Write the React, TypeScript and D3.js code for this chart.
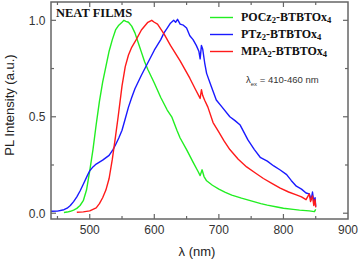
import React from "react";
import * as d3 from "d3";

// ---- data ----
const xTicks = [500, 600, 700, 800, 900];
const yTicks = [0.0, 0.5, 1.0];
const yTickLabels = ["0.0", "0.5", "1.0"];

const greenWl = [460, 465, 470, 475, 480, 485, 490, 495, 500, 505, 510, 515, 520, 525, 530, 535, 540, 545, 550, 553, 556, 560, 565, 570, 575, 580, 585, 590, 595, 600, 610, 620, 627, 635, 640, 650, 660, 668, 671, 674, 677, 681, 690, 700, 710, 720, 735, 750, 765, 775, 790, 800, 815, 825, 840, 848, 850];
const greenVal = [0.004, 0.006, 0.01, 0.016, 0.025, 0.04, 0.065, 0.12, 0.22, 0.33, 0.46, 0.58, 0.68, 0.76, 0.84, 0.9, 0.95, 0.975, 0.99, 1.0, 0.995, 0.99, 0.97, 0.935, 0.885, 0.835, 0.785, 0.745, 0.71, 0.675, 0.6, 0.535, 0.5, 0.43, 0.39, 0.33, 0.265, 0.215, 0.195, 0.225, 0.19, 0.168, 0.145, 0.125, 0.108, 0.094, 0.078, 0.064, 0.05, 0.042, 0.032, 0.026, 0.02, 0.016, 0.012, 0.008, 0.02];

const blueWl = [440, 450, 460, 465, 470, 475, 480, 485, 490, 497, 500, 505, 510, 520, 530, 536, 540, 545, 550, 555, 560, 565, 570, 580, 590, 600, 610, 615, 620, 625, 630, 633, 636, 640, 645, 650, 655, 660, 665, 669, 671, 673, 675, 678, 681, 688, 696, 705, 717, 725, 733, 745, 755, 764, 775, 785, 795, 805, 812, 820, 828, 835, 840, 843, 845, 847, 849, 850];
const blueVal = [0.01, 0.011, 0.018, 0.026, 0.04, 0.06, 0.085, 0.115, 0.15, 0.2, 0.22, 0.24, 0.255, 0.275, 0.3, 0.33, 0.355, 0.39, 0.43, 0.49, 0.55, 0.6, 0.645, 0.715, 0.78, 0.845, 0.9, 0.935, 0.96, 0.985, 1.0, 0.99, 1.005, 0.98, 0.975, 0.96, 0.92, 0.9, 0.87, 0.84, 0.8, 0.87, 0.85, 0.78, 0.725, 0.66, 0.587, 0.55, 0.5, 0.48, 0.457, 0.38, 0.33, 0.29, 0.27, 0.245, 0.224, 0.2, 0.17, 0.14, 0.125, 0.105, 0.1, 0.07, 0.11, 0.06, 0.08, 0.035];

const redWl = [480, 490, 500, 510, 515, 520, 525, 530, 535, 540, 544, 550, 555, 560, 565, 572, 580, 590, 596, 600, 605, 615, 625, 640, 655, 664, 671, 673, 675, 678, 683, 691, 700, 708, 717, 730, 743, 756, 769, 782, 795, 808, 820, 828, 835, 840, 842, 845, 847, 849, 850];
const redVal = [0.005, 0.007, 0.012, 0.028, 0.05, 0.08, 0.12, 0.18, 0.28, 0.4, 0.5, 0.66, 0.76, 0.82, 0.86, 0.9, 0.95, 0.99, 1.0, 0.99, 0.98, 0.93, 0.87, 0.79, 0.7, 0.64, 0.595, 0.64, 0.61, 0.586, 0.55, 0.47, 0.42, 0.375, 0.33, 0.28, 0.24, 0.21, 0.18, 0.155, 0.13, 0.11, 0.095, 0.085, 0.07, 0.1, 0.06, 0.09, 0.04, 0.07, 0.03];

const seriesNames = ["POCz", "PTz", "MPA"];
const seriesColors = ["#22ee22", "#1a1aff", "#ff1a1a"];

const W = 360, H = 262;
const left = 51, right = 348, top = 2, bottom = 219;

export default function App() {
  const x = d3.scaleLinear().domain([440, 900]).range([left, right]);
  const y = d3.scaleLinear().domain([-0.03, 1.095]).range([bottom, top]);
  const line = d3.line<[number, number]>().x(d => x(d[0])).y(d => y(d[1]));
  const mk = (a: number[], b: number[]) => a.map((v, i) => [v, b[i]] as [number, number]);
  const series = [mk(greenWl, greenVal), mk(blueWl, blueVal), mk(redWl, redVal)];

  const xMinor = d3.range(450, 900, 50);
  const yMinor = [0, 0.25, 0.5, 0.75, 1.0];
  const axisColor = "#666";
  const sans = "Arial, 'Liberation Sans', sans-serif";
  const serif = "'Times New Roman', 'Liberation Serif', serif";

  const legendY = [17.5, 34.5, 51.5];
  const legendText = (i: number) => {
    const head = seriesNames[i];
    return (<>{head}<tspan fontSize={8.5} dy={2}>2</tspan><tspan dy={-2}>-BTBTOx</tspan><tspan fontSize={8.5} dy={2}>4</tspan></>);
  };

  return (
    <svg width={W} height={H} style={{ position: "absolute", left: 0, top: 0, background: "#fff" }}>
      <defs>
        <clipPath id="clip"><rect x={left} y={top} width={right - left} height={bottom - top} /></clipPath>
      </defs>
      <g clipPath="url(#clip)">
        {series.map((s, i) => (
          <path key={i} d={line(s) || ""} fill="none" stroke={seriesColors[i]} strokeWidth={1.4} strokeLinejoin="round" />
        ))}
      </g>
      <rect x={left} y={top} width={right - left} height={bottom - top} fill="none" stroke={axisColor} strokeWidth={1.5} />
      {xMinor.map(v => {
        const major = v % 100 === 0;
        const len = major ? 5 : 3;
        return (
          <g key={"xt" + v}>
            <line x1={x(v)} x2={x(v)} y1={bottom} y2={bottom - len} stroke={axisColor} strokeWidth={1.2} />
            <line x1={x(v)} x2={x(v)} y1={top} y2={top + len} stroke={axisColor} strokeWidth={1.2} />
          </g>
        );
      })}
      {yMinor.map(v => {
        const major = Math.abs(v * 2 - Math.round(v * 2)) < 1e-6;
        const len = major ? 5 : 3;
        return (
          <g key={"yt" + v}>
            <line x1={left} x2={left + len} y1={y(v)} y2={y(v)} stroke={axisColor} strokeWidth={1.2} />
            <line x1={right} x2={right - len} y1={y(v)} y2={y(v)} stroke={axisColor} strokeWidth={1.2} />
          </g>
        );
      })}
      {xTicks.map(v => (
        <text key={"xl" + v} x={x(v)} y={233.5} textAnchor="middle" fontFamily={sans} fontSize={12} fill="#333">{v}</text>
      ))}
      {yTicks.map((v, i) => (
        <text key={"yl" + v} x={45.5} y={y(v) + 4.3} textAnchor="end" fontFamily={sans} fontSize={12} fill="#333">{yTickLabels[i]}</text>
      ))}
      <text x={197} y={256} textAnchor="middle" fontFamily={sans} fontSize={13} fill="#222">λ (nm)</text>
      <text transform="translate(13.5,105) rotate(-90)" textAnchor="middle" fontFamily={sans} fontSize={13} fill="#222">PL Intensity (a.u.)</text>
      <text x={56} y={17} fontFamily={serif} fontWeight="bold" fontSize={12.5} fill="#111">NEAT FILMS</text>
      {seriesNames.map((n, i) => (
        <g key={n}>
          <line x1={210} x2={233} y1={legendY[i]} y2={legendY[i]} stroke={seriesColors[i]} strokeWidth={1.4} />
          <text x={241} y={legendY[i] + 3.5} fontFamily={serif} fontWeight="bold" fontSize={12} fill="#111">{legendText(i)}</text>
        </g>
      ))}
      <text x={246} y={83} fontFamily={sans} fontSize={9.5} fill="#333">λ<tspan fontSize={6} dy={2.5}>ex</tspan><tspan dy={-2.5}> = 410-460 nm</tspan></text>
    </svg>
  );
}
